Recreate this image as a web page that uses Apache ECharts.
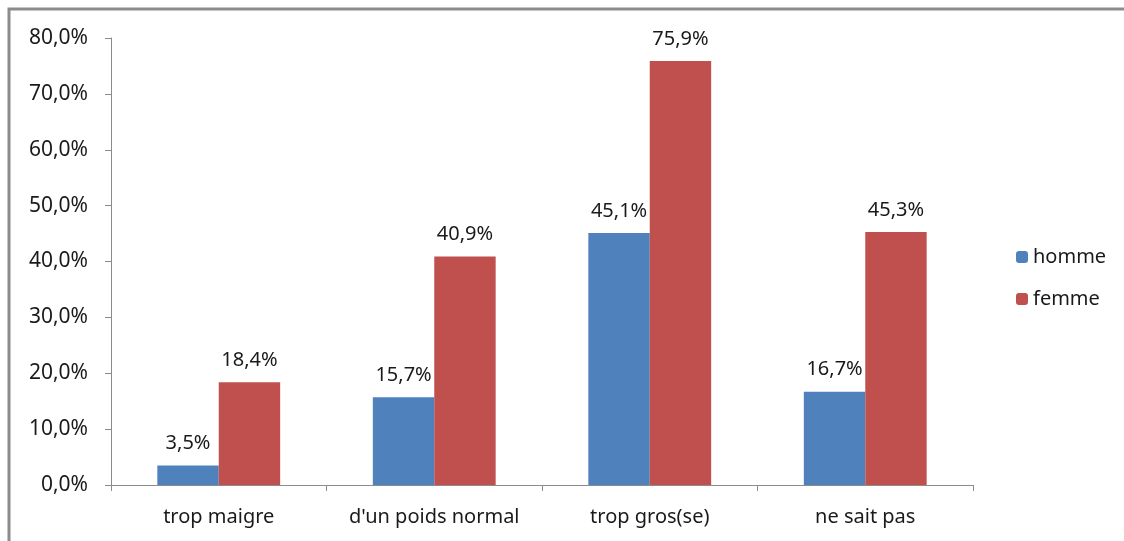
<!DOCTYPE html>
<html>
<head>
<meta charset="utf-8">
<script src="https://cdn.jsdelivr.net/npm/echarts@6/dist/echarts.min.js"></script>
<style>
html,body{margin:0;padding:0;background:#fff;}
#chart{width:1124px;height:541px;}
</style>
</head>
<body>
<div id="chart"></div>
<script>
// Perception du poids par sexe (en %)
const categories = ['trop maigre', "d'un poids normal", 'trop gros(se)', 'ne sait pas'];
const homme = [3.5, 15.7, 45.1, 16.7];
const femme = [18.4, 40.9, 75.9, 45.3];
const seriesNames = ['homme', 'femme'];

const fr = v => v.toFixed(1).replace('.', ',') + '%';
const font = 'Noto Sans';
const txt = '#1a1a1a';

const chart = echarts.init(document.getElementById('chart'), null, {renderer: 'canvas'});
chart.setOption({
  animation: false,
  backgroundColor: '#fff',
  textStyle: {fontFamily: font},
  graphic: [{
    type: 'rect',
    shape: {x: 9, y: 9, width: 1300, height: 700},
    style: {fill: 'none', stroke: '#8c8c8c', lineWidth: 3},
    silent: true
  }],
  grid: {left: 111, right: 151, top: 38, bottom: 56},
  legend: {
    orient: 'vertical',
    left: 1011,
    top: 242,
    itemWidth: 12,
    itemHeight: 12,
    itemGap: 22,
    textStyle: {fontFamily: font, fontSize: 20, color: txt},
    data: seriesNames
  },
  xAxis: {
    type: 'category',
    data: categories,
    axisLine: {lineStyle: {color: '#8c8c8c', width: 1}},
    axisTick: {show: true, interval: 0, length: 6, alignWithLabel: false, lineStyle: {color: '#8c8c8c'}},
    axisLabel: {interval: 0, hideOverlap: false, fontFamily: font, fontSize: 20, color: txt, margin: 22}
  },
  yAxis: {
    type: 'value',
    min: 0,
    max: 80,
    interval: 10,
    axisLine: {show: true, lineStyle: {color: '#8c8c8c', width: 1}},
    axisTick: {show: true, length: 6, lineStyle: {color: '#8c8c8c'}},
    splitLine: {show: false},
    axisLabel: {fontFamily: font, fontSize: 21, color: txt, margin: 23, formatter: fr}
  },
  series: [
    {
      name: seriesNames[0],
      type: 'bar',
      data: homme,
      barWidth: '28.5%',
      barGap: '0%',
      itemStyle: {color: '#4f81bd'},
      label: {show: true, position: 'top', distance: 12, fontFamily: font, fontSize: 20, color: txt, formatter: p => fr(p.value)}
    },
    {
      name: seriesNames[1],
      type: 'bar',
      data: femme,
      barWidth: '28.5%',
      barGap: '0%',
      itemStyle: {color: '#c0504d'},
      label: {show: true, position: 'top', distance: 12, fontFamily: font, fontSize: 20, color: txt, formatter: p => fr(p.value)}
    }
  ]
});
</script>
</body>
</html>
